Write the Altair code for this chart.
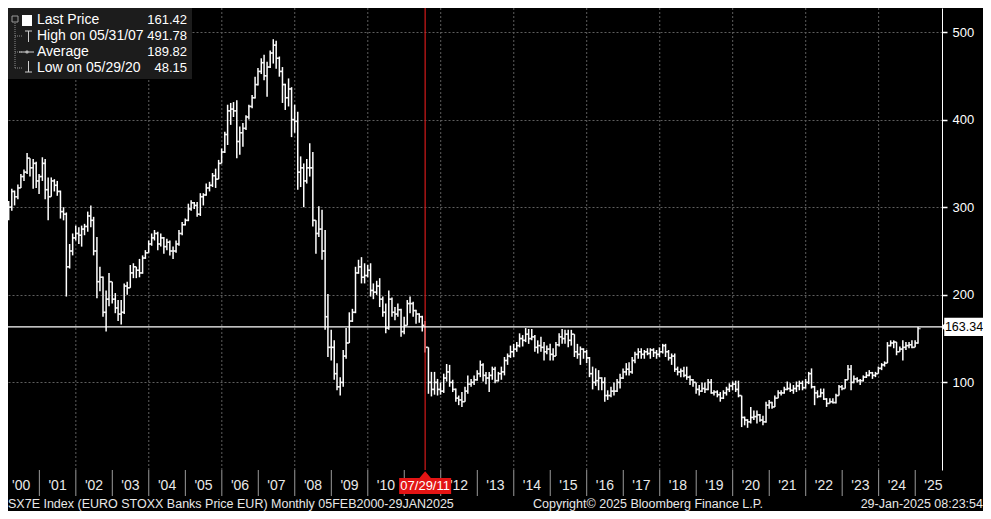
import altair as alt
import pandas as pd

FONT = "Liberation Sans"

# ---------------- data (monthly bars, Feb 2000 .. Jan 2025) ----------------
FIRST_OPEN = 290.0
closes = [
    300, 318, 312, 322, 335, 340, 356, 345, 350, 330, 335,            # 2000 Feb-Dec
    350, 320, 312, 330, 325, 318, 295, 292, 232, 250, 265, 270,       # 2001
    268, 275, 278, 290, 285, 250, 215, 220, 180, 195, 215, 195,       # 2002
    185, 178, 180, 210, 208, 225, 232, 228, 225, 242, 248, 258,       # 2003
    265, 270, 258, 265, 255, 260, 250, 250, 258, 270, 280, 285,       # 2004
    298, 305, 302, 292, 312, 314, 322, 325, 336, 332, 350, 363,       # 2005
    383, 410, 412, 410, 375, 385, 390, 403, 415, 425, 440, 455,       # 2006
    465, 450, 460, 476, 485, 470, 455, 440, 425, 435, 400, 398,       # 2007
    340, 345, 330, 345, 345, 285, 270, 275, 250, 175, 140, 140,       # 2008
    110, 95, 100, 130, 145, 170, 180, 225, 232, 220, 222, 228,        # 2009
    205, 203, 210, 195, 180, 162, 195, 180, 178, 183, 158, 165,       # 2010
    190, 190, 182, 178, 175, 165, 140, 100, 92, 100, 92, 90,          # 2011
    105, 112, 100, 92, 82, 80, 78, 90, 98, 100, 103, 110,             # 2012
    120, 108, 105, 108, 115, 102, 110, 112, 125, 130, 135, 138,       # 2013
    142, 150, 148, 155, 150, 152, 140, 142, 140, 135, 138, 132,       # 2014
    130, 143, 152, 150, 155, 148, 155, 135, 132, 138, 135, 128,       # 2015
    110, 100, 102, 105, 100, 85, 85, 90, 90, 100, 105, 112,           # 2016
    115, 112, 125, 132, 135, 132, 135, 133, 137, 134, 132, 135,       # 2017
    142, 135, 128, 130, 115, 112, 113, 108, 106, 103, 100, 92,        # 2018
    90, 93, 92, 100, 88, 89, 86, 82, 88, 92, 96, 98,                  # 2019
    92, 85, 60, 57, 55, 60, 61, 63, 57, 55, 74, 77,                   # 2020
    72, 82, 88, 88, 92, 93, 91, 93, 96, 99, 94, 100,                  # 2021
    110, 95, 88, 84, 88, 81, 76, 78, 77, 85, 95, 93,                  # 2022
    103, 115, 100, 104, 102, 102, 106, 108, 111, 108, 110, 116,       # 2023
    120, 122, 142, 145, 146, 135, 138, 140, 142, 143, 140, 145,       # 2024
    161.42,                                                           # 2025 Jan
]
highs = [
    307, 321, 319, 326, 338, 343, 362, 355, 355, 352, 338,
    357, 355, 334, 334, 332, 330, 319, 300, 294, 258, 270, 279,
    277, 279, 281, 295, 302, 289, 266, 232, 221, 205, 225, 213,
    202, 194, 194, 213, 215, 234, 236, 232, 241, 245, 251, 262,
    270, 274, 272, 270, 266, 264, 262, 255, 262, 274, 283, 287,
    304, 308, 306, 306, 316, 316, 327, 329, 339, 344, 354, 367,
    386, 417, 419, 420, 422, 392, 396, 405, 417, 428, 449, 459,
    470, 474, 466, 479, 491.78, 490, 472, 460, 441, 447, 437, 417,
    409, 358, 350, 355, 373, 363, 285, 301, 297, 274, 201, 160,
    148, 122, 106, 137, 162, 180, 184, 232, 240, 243, 236, 234,
    236, 213, 216, 219, 198, 190, 205, 197, 186, 190, 184, 175,
    194, 198, 192, 183, 179, 176, 170, 140, 112, 112, 104, 100,
    110, 121, 120, 103, 93, 85, 89, 95, 108, 104, 108, 114,
    125, 122, 112, 112, 118, 118, 112, 118, 129, 133, 142, 144,
    146, 156, 154, 162, 161, 161, 154, 148, 152, 146, 142, 144,
    139, 146, 156, 161, 160, 160, 160, 148, 144, 141, 139, 137,
    129, 118, 116, 114, 106, 106, 91, 95, 100, 104, 110, 116,
    122, 123, 129, 135, 139, 139, 137, 139, 139, 139, 137, 140,
    144, 144, 137, 133, 133, 118, 116, 118, 118, 108, 104, 100,
    97, 100, 100, 104, 104, 91, 91, 89, 91, 95, 99, 101,
    102, 102, 85, 61, 58, 72, 68, 68, 64, 62, 78, 80,
    78, 85, 91, 91, 95, 101, 99, 97, 101, 102, 102, 104,
    112, 116, 96, 91, 93, 93, 82, 82, 82, 87, 97, 97,
    104, 120, 120, 108, 106, 104, 108, 112, 114, 112, 112, 118,
    122, 124, 146, 148, 148, 146, 141, 148, 146, 146, 148, 148,
    163.34,
]
lows = [
    285, 296, 302, 309, 322, 330, 338, 335, 321, 322, 315,
    330, 309, 285, 312, 318, 313, 287, 285, 198, 230, 245, 262,
    258, 255, 268, 272, 277, 245, 196, 204, 175, 158, 187, 190,
    179, 170, 166, 178, 200, 208, 219, 219, 220, 224, 241, 248,
    256, 262, 251, 255, 247, 251, 245, 241, 248, 256, 268, 279,
    284, 296, 298, 289, 290, 302, 313, 318, 323, 322, 332, 350,
    362, 371, 394, 403, 356, 360, 369, 388, 400, 413, 424, 439,
    452, 445, 426, 459, 464, 458, 449, 419, 411, 415, 380, 385,
    320, 323, 300, 327, 335, 278, 247, 266, 240, 160, 129, 125,
    103, 91, 85, 95, 127, 160, 169, 179, 224, 213, 213, 220,
    198, 195, 200, 186, 175, 156, 160, 175, 171, 175, 152, 155,
    165, 179, 175, 167, 168, 158, 134, 87, 84, 86, 85, 86,
    88, 101, 95, 89, 78, 74, 72, 78, 87, 95, 97, 102,
    106, 101, 98, 89, 103, 99, 101, 103, 108, 120, 128, 129,
    135, 140, 141, 146, 144, 148, 135, 133, 135, 125, 132, 125,
    125, 130, 141, 144, 144, 140, 142, 129, 127, 120, 127, 122,
    106, 92, 96, 91, 91, 78, 80, 83, 85, 89, 93, 104,
    108, 108, 110, 122, 127, 127, 127, 131, 127, 129, 127, 129,
    133, 129, 125, 120, 112, 108, 106, 106, 103, 97, 95, 87,
    85, 89, 88, 91, 87, 85, 83, 78, 81, 85, 89, 91,
    89, 83, 49, 51, 48.15, 53, 57, 53, 55, 51, 54, 70,
    70, 72, 82, 85, 87, 91, 89, 87, 89, 91, 91, 93,
    98, 93, 74, 82, 83, 80, 72, 76, 76, 76, 85, 91,
    93, 103, 91, 99, 100, 97, 101, 105, 107, 104, 106, 110,
    114, 118, 123, 141, 139, 131, 135, 125, 137, 139, 139, 142,
    144,
]

legend_labels = ["Last Price", "High on 05/31/07", "Average", "Low on 05/29/20"]
legend_values = ["161.42", "491.78", "189.82", "48.15"]
current_price = 163.34
marker_date = "2011-07-29"
marker_label = "07/29/11"
y_ticks = [100, 200, 300, 400, 500]
grid_years = [2002, 2004, 2006, 2008, 2010, 2012, 2014, 2016, 2018, 2020, 2022, 2024]
label_years = [2000, 2001, 2002, 2003, 2004, 2005, 2006, 2007, 2008, 2009, 2010,
               2012, 2013, 2014, 2015, 2016, 2017, 2018, 2019, 2020, 2021, 2022,
               2023, 2024, 2025]          # '11 is hidden behind the date flag
sep_years = list(range(2001, 2026))
footer_left = "SX7E Index (EURO STOXX Banks Price EUR)  Monthly 05FEB2000-29JAN2025"
footer_mid = "Copyright\u00a9 2025 Bloomberg Finance L.P."
footer_right = "29-Jan-2025 08:23:54"

# ---------------- tables ----------------
dates = list(pd.date_range("2000-02-29", periods=len(closes), freq=pd.offsets.BMonthEnd()))
dates[-1] = pd.Timestamp("2025-01-29")
bars = pd.DataFrame({
    "date": dates,
    "open": [FIRST_OPEN] + closes[:-1],
    "high": highs,
    "low": lows,
    "close": closes,
})
bars["high"] = bars[["high", "open", "close"]].max(axis=1)
bars["low"] = bars[["low", "open", "close"]].min(axis=1)

grid_df = pd.DataFrame({"date": [f"{y}-01-01" for y in grid_years]})
sep_df = pd.DataFrame({"date": [f"{y}-01-01" for y in sep_years]})
ylab_df = pd.DataFrame({"date": [f"{y}-07-02" for y in label_years],
                        "label": ["'" + str(y)[2:] for y in label_years]})
marker_df = pd.DataFrame({"date": [marker_date], "label": [marker_label]})
legend_df = pd.DataFrame({"label": legend_labels, "value": legend_values,
                          "i": list(range(len(legend_labels)))})
one = pd.DataFrame({"k": [0]})

W, H = 934, 462
x_scale = alt.Scale(domain=[alt.DateTime(year=2000, month=2, date=22),
                            alt.DateTime(year=2025, month=9, date=26)])
y_scale = alt.Scale(domain=[0, 527.4], nice=False, zero=False)

y_axis = alt.Axis(orient="right", values=y_ticks, title=None, grid=True,
                  gridColor="#5e5e5e", gridDash=[2, 2], gridWidth=1,
                  domain=True, domainColor="white", domainWidth=1,
                  ticks=True, tickColor="white", tickSize=5, tickWidth=1.5,
                  labelColor="white", labelFont=FONT, labelFontSize=13,
                  labelPadding=5)

X = alt.X("date:T", scale=x_scale, axis=None)

vgrid = alt.Chart(grid_df).mark_rule(color="#5e5e5e", strokeDash=[2, 2], strokeWidth=1).encode(x=X)

BW = 1.5
hl = alt.Chart(bars).mark_rule(color="white", strokeWidth=BW).encode(
    x=X, y=alt.Y("low:Q", scale=y_scale, axis=y_axis), y2="high:Q")
op = alt.Chart(bars).mark_tick(color="white", orient="horizontal", size=2.6,
                               thickness=BW, xOffset=-1.3).encode(x=X, y="open:Q")
cl = alt.Chart(bars).mark_tick(color="white", orient="horizontal", size=2.6,
                               thickness=BW, xOffset=1.3).encode(x=X, y="close:Q")

red_line = alt.Chart(marker_df).mark_rule(color="#d11a1a", strokeWidth=1.2).encode(x=X)

cur_line = alt.Chart(one).mark_rule(color="white", strokeWidth=1.3).encode(
    y=alt.datum(current_price), x=alt.value(0), x2=alt.value(W))
cur_box = alt.Chart(one).mark_point(
    shape="M-1,-0.46L1,-0.46L1,0.46L-1,0.46L-1,0.16L-1.14,0L-1,-0.16Z",
    size=1560, filled=True, color="white", opacity=1, strokeWidth=0).encode(
    x=alt.value(956), y=alt.datum(current_price))
cur_text = alt.Chart(one).mark_text(font=FONT, fontSize=12.5, color="black",
                                    align="center", baseline="middle").encode(
    x=alt.value(956), y=alt.datum(current_price), text=alt.value(f"{current_price:.2f}"))

# x-axis area
seps = alt.Chart(sep_df).mark_rule(color="#9a9a9a", strokeWidth=1).encode(
    x=X, y=alt.value(H), y2=alt.value(H + 26))
ylabels = alt.Chart(ylab_df).mark_text(font=FONT, fontSize=14, color="#e8e8e8",
                                       baseline="middle").encode(
    x=X, y=alt.value(H + 16), text="label:N")
red_box = alt.Chart(marker_df).mark_point(
    shape="M-1,-0.31L-0.22,-0.31L0,-0.57L0.22,-0.31L1,-0.31L1,0.31L-1,0.31Z",
    size=2704, filled=True, color="#e31414", opacity=1, strokeWidth=0).encode(
    x=X, y=alt.value(H + 16))
red_text = alt.Chart(marker_df).mark_text(font=FONT, fontSize=13, color="white",
                                          baseline="middle").encode(
    x=X, y=alt.value(H + 16), text="label:N")

footer = alt.layer(
    alt.Chart(one).mark_text(font=FONT, fontSize=12.5, color="#e8e8e8", align="left",
                             baseline="middle").encode(
        x=alt.value(0), y=alt.value(H + 34), text=alt.value(footer_left)),
    alt.Chart(one).mark_text(font=FONT, fontSize=12.5, color="#e8e8e8", align="left",
                             baseline="middle").encode(
        x=alt.value(525), y=alt.value(H + 34), text=alt.value(footer_mid)),
    alt.Chart(one).mark_text(font=FONT, fontSize=12.5, color="#e8e8e8", align="right",
                             baseline="middle").encode(
        x=alt.value(975), y=alt.value(H + 34), text=alt.value(footer_right)),
)

# legend box
leg_bg = alt.Chart(one).mark_rect(color="#1c1c1c").encode(
    x=alt.value(0), x2=alt.value(184), y=alt.value(0), y2=alt.value(71))
leg_text = alt.Chart(legend_df).transform_calculate(py="12 + datum.i * 16").mark_text(
    font=FONT, fontSize=14, color="white", align="left", baseline="middle").encode(
    x=alt.value(29), y=alt.Y("py:Q", scale=None), text="label:N")
leg_vals = alt.Chart(legend_df).transform_calculate(py="12 + datum.i * 16").mark_text(
    font=FONT, fontSize=13, color="white", align="right", baseline="middle").encode(
    x=alt.value(179), y=alt.Y("py:Q", scale=None), text="value:N")
leg_sq = alt.Chart(one).mark_rect(color="white").encode(
    x=alt.value(14), x2=alt.value(24), y=alt.value(7), y2=alt.value(18))
leg_minus = alt.Chart(one).mark_rect(color="#1c1c1c", stroke="#9a9a9a", strokeWidth=1).encode(
    x=alt.value(4), x2=alt.value(10), y=alt.value(8), y2=alt.value(14))
tree_v = alt.Chart(one).mark_rule(color="#8a8a8a", strokeDash=[1, 1]).encode(
    x=alt.value(7), y=alt.value(15), y2=alt.value(60))
tree_h = alt.Chart(legend_df).transform_filter("datum.i > 0").transform_calculate(
    py="12 + datum.i * 16").mark_rule(color="#8a8a8a", strokeDash=[1, 1]).encode(
    x=alt.value(7), x2=alt.value(15), y=alt.Y("py:Q", scale=None))
glyph_col = "#cfcfcf"
hi_top = alt.Chart(one).mark_rule(color=glyph_col).encode(x=alt.value(17), x2=alt.value(24), y=alt.value(23))
hi_stem = alt.Chart(one).mark_rule(color=glyph_col).encode(x=alt.value(20.5), y=alt.value(23), y2=alt.value(34))
av_line = alt.Chart(one).mark_rule(color=glyph_col).encode(x=alt.value(11), x2=alt.value(26), y=alt.value(44))
av_dot = alt.Chart(one).mark_point(color=glyph_col, filled=True, size=12).encode(x=alt.value(19), y=alt.value(44))
lo_stem = alt.Chart(one).mark_rule(color=glyph_col).encode(x=alt.value(20.5), y=alt.value(53), y2=alt.value(64))
lo_base = alt.Chart(one).mark_rule(color=glyph_col).encode(x=alt.value(17), x2=alt.value(24), y=alt.value(64))

chart = alt.layer(
    vgrid, hl, op, cl, red_line, cur_line, cur_box, cur_text,
    seps, ylabels, red_box, red_text, footer,
    leg_bg, leg_text, leg_vals, leg_sq, leg_minus, tree_v, tree_h,
    hi_top, hi_stem, av_line, av_dot, lo_stem, lo_base,
).properties(
    width=W, height=H,
    autosize=alt.AutoSizeParams(type="none"),
    padding={"left": 0, "top": 0, "right": 41, "bottom": 41},
).configure(background="black").configure_view(stroke=None)

chart.save("out.html", embed_options={"renderer": "svg", "actions": False})
